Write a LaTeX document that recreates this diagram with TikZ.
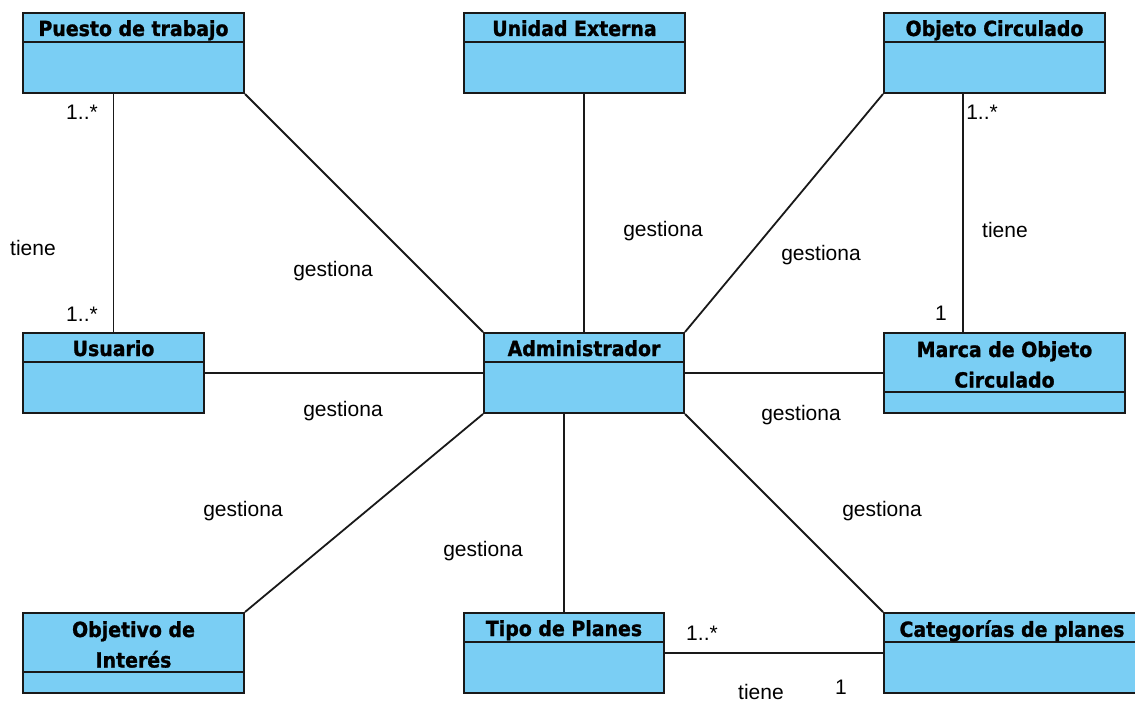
\documentclass[tikz,border=0pt]{standalone}
\usepackage{fontspec}
\setmainfont{Liberation Sans}
\newfontfamily\hdrfont[FakeStretch=0.91, BoldFeatures={FakeStretch=0.91, FakeBold=1.2}]{DejaVu Sans}
\usetikzlibrary{calc}
\definecolor{clsfill}{RGB}{122,206,244}
\definecolor{ink}{RGB}{25,25,25}
\begin{document}
\begin{tikzpicture}[x=1pt,y=-1pt,
  cls/.style={draw=ink, fill=clsfill, line width=2pt, rectangle, inner sep=0pt},
  divider/.style={draw=ink, line width=2pt},
  title/.style={font=\hdrfont\bfseries\fontsize{20.8}{30.5}\selectfont, align=center, inner sep=0pt, anchor=north},
  lbl/.style={font=\fontsize{21}{24}\selectfont, inner sep=0pt},
  assoc/.style={draw=ink, line width=1.8pt}]
\useasboundingbox (0,0) rectangle (1135,703);
\clip (0,0) rectangle (1135,703);
\fill[white] (0,0) rectangle (1135,703);

% ---- classes ----
\node[cls, minimum width=221pt, minimum height=80pt] (puesto) at (133.5,53) {};
\draw[divider] ($(puesto.north west)+(0,30)$) -- ($(puesto.north east)+(0,30)$);
\node[title] (tpuesto) at ($(puesto.north)+(0,8)$) {Puesto de trabajo};

\node[cls, minimum width=221pt, minimum height=80pt] (unidad) at (574.5,53) {};
\draw[divider] ($(unidad.north west)+(0,30)$) -- ($(unidad.north east)+(0,30)$);
\node[title] (tunidad) at ($(unidad.north)+(0,8)$) {Unidad Externa};

\node[cls, minimum width=221pt, minimum height=80pt] (objc) at (994.5,53) {};
\draw[divider] ($(objc.north west)+(0,30)$) -- ($(objc.north east)+(0,30)$);
\node[title] (tobjc) at ($(objc.north)+(0,8)$) {Objeto Circulado};

\node[cls, minimum width=181pt, minimum height=80pt] (usuario) at (113.5,373) {};
\draw[divider] ($(usuario.north west)+(0,30)$) -- ($(usuario.north east)+(0,30)$);
\node[title] (tusuario) at ($(usuario.north)+(0,8)$) {Usuario};

\node[cls, minimum width=200pt, minimum height=80pt] (admin) at (584,373) {};
\draw[divider] ($(admin.north west)+(0,30)$) -- ($(admin.north east)+(0,30)$);
\node[title] (tadmin) at ($(admin.north)+(0,8)$) {Administrador};

\node[cls, minimum width=241pt, minimum height=80pt] (marca) at (1004.5,373) {};
\draw[divider] ($(marca.north west)+(0,60)$) -- ($(marca.north east)+(0,60)$);
\node[title] (tmarca) at ($(marca.north)+(0,9)$) {Marca de Objeto\\Circulado};

\node[cls, minimum width=221pt, minimum height=80pt] (objetivo) at (133.5,653) {};
\draw[divider] ($(objetivo.north west)+(0,60)$) -- ($(objetivo.north east)+(0,60)$);
\node[title] (tobjetivo) at ($(objetivo.north)+(0,9)$) {Objetivo de\\Interés};

\node[cls, minimum width=200pt, minimum height=80pt] (tipo) at (564,653) {};
\draw[divider] ($(tipo.north west)+(0,30)$) -- ($(tipo.north east)+(0,30)$);
\node[title] (ttipo) at ($(tipo.north)+(0,8)$) {Tipo de Planes};

\node[cls, minimum width=256pt, minimum height=80pt] (categ) at (1012,653) {};
\draw[divider] ($(categ.north west)+(0,30)$) -- ($(categ.north east)+(0,30)$);
\node[title] (tcateg) at ($(categ.north)+(0,8)$) {Categorías de planes};

% ---- associations ----
\coordinate (objcfoot) at ($(objc.south west)+(80,0)$);
\draw[assoc] (puesto.south -| usuario.north) -- (usuario.north);
\draw[assoc] (puesto.south east) -- (admin.north west);
\draw[assoc] (unidad.south -| admin.north) -- (admin.north);
\draw[assoc] (objc.south west) -- (admin.north east);
\draw[assoc] (objcfoot) -- (objcfoot |- marca.north);
\draw[assoc] (usuario.east) -- (usuario.east -| admin.west);
\draw[assoc] (admin.east) -- (admin.east -| marca.west);
\draw[assoc] (admin.south west) -- (objetivo.north east);
\draw[assoc] (tipo.north |- admin.south) -- (tipo.north);
\draw[assoc] (admin.south east) -- (categ.north west);
\draw[assoc] (tipo.east) -- (tipo.east -| categ.west);

% ---- association labels and multiplicities ----
\node[lbl] (m1) at (82,112) {1..*};
\node[lbl] (r1) at (33,248) {tiene};
\node[lbl] (m2) at (82,314) {1..*};
\node[lbl] (g1) at (333,271) {gestiona};
\node[lbl] (g2) at (663,231) {gestiona};
\node[lbl] (g3) at (821,255) {gestiona};
\node[lbl] (m3) at (982,112) {1..*};
\node[lbl] (r2) at (1005,230) {tiene};
\node[lbl] (m4) at (941,313) {1};
\node[lbl] (g4) at (343,411) {gestiona};
\node[lbl] (g5) at (801,415) {gestiona};
\node[lbl] (g6) at (243,511) {gestiona};
\node[lbl] (g7) at (483,551) {gestiona};
\node[lbl] (g8) at (882,511) {gestiona};
\node[lbl] (m5) at (702,633) {1..*};
\node[lbl] (r3) at (761,692) {tiene};
\node[lbl] (m6) at (841,687) {1};
\end{tikzpicture}
\end{document}
